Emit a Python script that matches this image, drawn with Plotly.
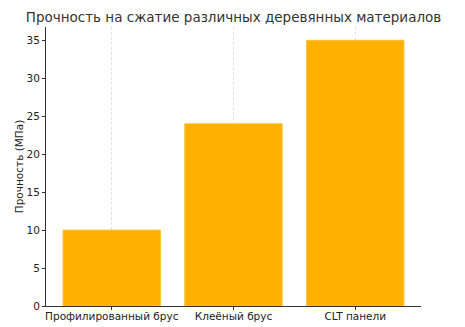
import plotly.graph_objects as go

categories = ["Профилированный брус", "Клеёный брус", "CLT панели"]
values = [10, 24, 35]
y_ticks = [0, 5, 10, 15, 20, 25, 30, 35]

fig = go.Figure(go.Bar(
    x=[0, 1, 2], y=values, width=0.8,
    marker=dict(color="#FFB000", line=dict(color="#FFC23A", width=1)),
))

fig.update_layout(
    width=465, height=327,
    margin=dict(l=46, r=44, t=27, b=21),
    paper_bgcolor="white", plot_bgcolor="white",
    font=dict(family="DejaVu Sans", size=10, color="#333333"),
    title=dict(text="Прочность на сжатие различных деревянных материалов",
               x=0.5, xref="paper", y=1 - 17/327, yanchor="middle",
               font=dict(size=13.5, color="#333333")),
    showlegend=False,
)
fig.update_xaxes(
    range=[-0.54, 2.54], tickvals=[0, 1, 2], ticktext=categories,
    showgrid=True, gridcolor="rgba(190,190,190,0.45)", griddash="3px,2px", gridwidth=1,
    showline=True, linecolor="#333333", linewidth=1,
    ticks="outside", ticklen=3, tickcolor="#333333",
    layer="above traces", zeroline=False, automargin=False,
    ticklabelstandoff=-3,
    tickfont=dict(size=10.5, color="#222222"),
)
fig.update_yaxes(
    range=[0, 36.75], tickvals=y_ticks,
    showgrid=False, zeroline=False, automargin=False,
    showline=True, linecolor="#333333", linewidth=1,
    ticks="outside", ticklen=3, tickcolor="#333333",
    title=dict(text="Прочность (МПа)", font=dict(size=10.5, color="#222222"), standoff=0),
    tickfont=dict(size=10.5, color="#222222"),
)

fig.write_html("out.html")
